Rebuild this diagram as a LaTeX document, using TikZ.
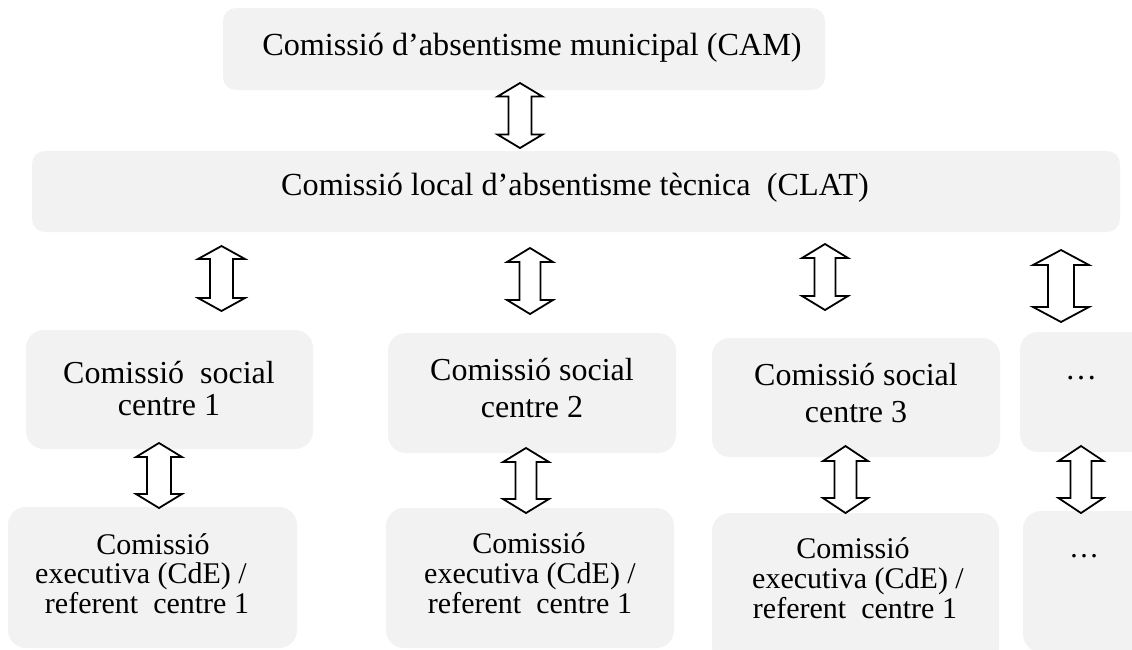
\documentclass[tikz,border=0pt]{standalone}
\usepackage{fontspec}
\setmainfont{Liberation Serif}
\usetikzlibrary{calc}
\definecolor{boxgray}{HTML}{F2F2F2}
\newcommand\ftop{\fontsize{32.2}{37}\selectfont}
\newcommand\fsoc{\fontsize{32}{37}\selectfont}
\newcommand\fexe{\fontsize{30}{30}\selectfont}
\tikzset{
  box/.style={draw=none, fill=boxgray, rectangle, inner sep=0pt},
  topbox/.style={box, rounded corners=13pt},
  lowbox/.style={box, rounded corners=18pt},
  lbl/.style={anchor=base, inner sep=0pt, text=black},
  dbl/.style={draw=black, fill=white, line width=1.8pt, line join=miter},
}
% name, cx, ytop, ybot, head half width, shaft half width, head length
\newcommand\darrow[7]{%
  \coordinate (#1t) at (#2,#3);
  \coordinate (#1b) at (#2,#4);
  \draw[dbl] (#1t) -- ($(#1t)+(#5,#7)$) -- ($(#1t)+(#6,#7)$)
    -- ($(#1b)+(#6,-#7)$) -- ($(#1b)+(#5,-#7)$) -- (#1b)
    -- ($(#1b)+(-#5,-#7)$) -- ($(#1b)+(-#6,-#7)$)
    -- ($(#1t)+(-#6,#7)$) -- ($(#1t)+(-#5,#7)$) -- cycle;}
\begin{document}
\begin{tikzpicture}[x=1pt, y=-1pt]
\clip (0,0) rectangle (1132,649);
\fill[white] (0,0) rectangle (1132,649);
% boxes
\node[topbox, minimum width=602pt, minimum height=82pt] (cam) at (524,49) {};
\node[topbox, minimum width=1088pt, minimum height=81pt] (clat) at (576,191.5) {};
\node[lowbox, minimum width=287pt, minimum height=119pt] (s1) at (169.5,389.5) {};
\node[lowbox, minimum width=288pt, minimum height=120pt] (s2) at (532,393) {};
\node[lowbox, minimum width=288pt, minimum height=119pt] (s3) at (856,397.5) {};
\node[lowbox, minimum width=130pt, minimum height=120pt] (s4) at (1085,392) {};
\node[lowbox, minimum width=289pt, minimum height=141pt] (e1) at (152.5,577.5) {};
\node[lowbox, minimum width=288pt, minimum height=140pt] (e2) at (530,578) {};
\node[lowbox, minimum width=287pt, minimum height=152pt] (e3) at (855.5,589) {};
\node[lowbox, minimum width=127pt, minimum height=141pt] (e4) at (1086.5,581.5) {};
% texts
\node[lbl, font=\ftop] (camt) at (532,55) {Comissió d’absentisme municipal (CAM)};
\node[lbl, font=\ftop] (clatt) at (575,195) {Comissió local d’absentisme tècnica~ (CLAT)};
\node[lbl, font=\fsoc] (s1a) at (169,383) {Comissió~ social};
\node[lbl, font=\fsoc] (s1b) at (169,415) {centre 1};
\node[lbl, font=\fsoc] (s2a) at (532,380) {Comissió social};
\node[lbl, font=\fsoc] (s2b) at (532,417) {centre 2};
\node[lbl, font=\fsoc] (s3a) at (856,385) {Comissió social};
\node[lbl, font=\fsoc] (s3b) at (856,422) {centre 3};
\node[lbl, font=\fsoc] (s4a) at (1081,379) {…};
\node[lbl, font=\fexe] (e1a) at (153,554) {Comissió};
\node[lbl, font=\fexe] (e1b) at (141,583) {executiva (CdE) /};
\node[lbl, font=\fexe] (e1c) at (147,613) {referent~ centre 1};
\node[lbl, font=\fexe] (e2a) at (529,553) {Comissió};
\node[lbl, font=\fexe] (e2b) at (530,583) {executiva (CdE) /};
\node[lbl, font=\fexe] (e2c) at (530,613) {referent~ centre 1};
\node[lbl, font=\fexe] (e3a) at (853,558) {Comissió};
\node[lbl, font=\fexe] (e3b) at (858,588) {executiva (CdE) /};
\node[lbl, font=\fexe] (e3c) at (855,618) {referent~ centre 1};
\node[lbl, font=\fexe] (e4a) at (1084,557) {…};
% double arrows
\darrow{a0}{520}{83}{148}{22.5}{11.5}{13.5}
\darrow{a1}{221.5}{246}{311}{23.5}{11.5}{13}
\darrow{a2}{530}{248}{314}{23}{10.5}{14}
\darrow{a3}{825}{244}{310}{23}{10.5}{14}
\darrow{a4}{1061}{250}{322}{28}{13}{15}
\darrow{b1}{159}{443}{508}{23}{12}{14}
\darrow{b2}{526}{448}{513}{23}{10.5}{14}
\darrow{b3}{845.5}{446}{513}{22.5}{11}{15}
\darrow{b4}{1081}{446}{513}{22.5}{10.5}{15}
\end{tikzpicture}
\end{document}
